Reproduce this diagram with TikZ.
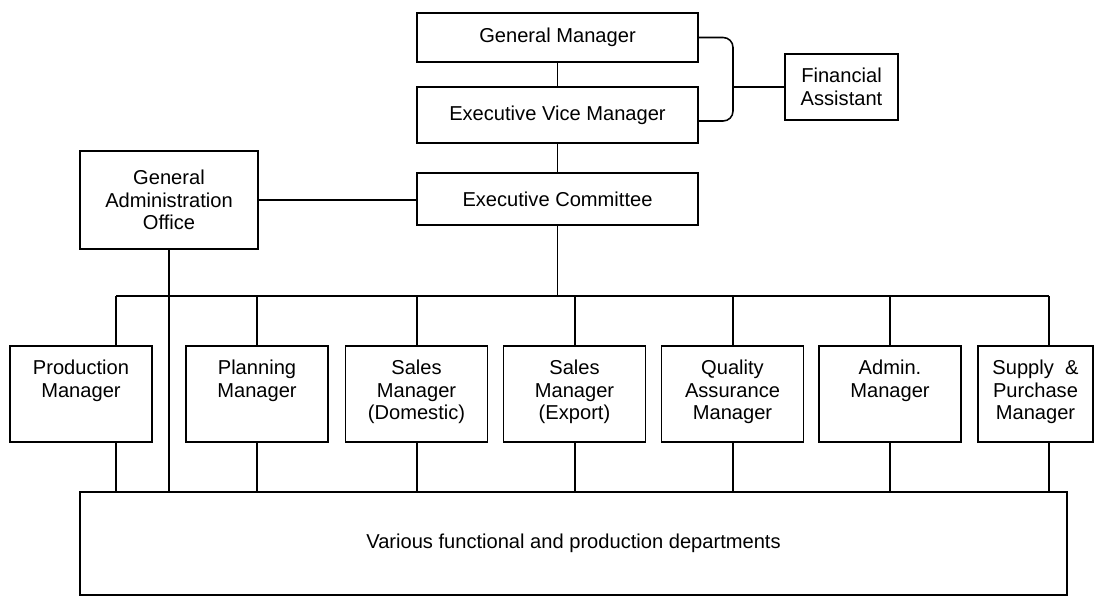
\documentclass[tikz,border=0pt]{standalone}
\usepackage{fontspec}
\setmainfont{Liberation Sans}
\usetikzlibrary{positioning,calc}
\newcommand{\boxfont}{\fontsize{14.3}{16}\selectfont}
\newcommand{\toptext}[2]{\parbox[c][2.4cm][t]{#1}{\centering\vspace*{0.36cm}#2}}

\begin{document}
\begin{tikzpicture}[x=0.025cm, y=-0.025cm, line width=1.1pt,
    box/.style={draw, inner sep=0pt, align=center, font=\boxfont},
    mgr/.style={box, minimum width=3.55cm, minimum height=2.4cm}]
  \useasboundingbox (0,0) rectangle (1094,597);
  %nodes
  \node[box, minimum width=7.025cm, minimum height=1.225cm] (gm) at (557.5,37.5) {General Manager};
  \node[box, minimum width=7.025cm, minimum height=1.4cm] (evm) at (557.5,115) {Executive Vice Manager};
  \node[box, minimum width=7.025cm, minimum height=1.3cm] (ec) at (557.5,199) {Executive Committee};
  \node[box, minimum width=2.825cm, minimum height=1.65cm] (fa) at (841.5,87) {Financial\\Assistant};
  \node[box, minimum width=4.45cm, minimum height=2.45cm] (gao) at (169,200) {General\\Administration\\Office};
  \node[mgr] (prod) at (81,394) {\toptext{3.5cm}{Production\\Manager}};
  \node[mgr] (plan) at (257,394) {\toptext{3.5cm}{Planning\\Manager}};
  \node[mgr] (sdom) at (416.5,394) {\toptext{3.5cm}{Sales\\Manager\\(Domestic)}};
  \node[mgr] (sexp) at (574.5,394) {\toptext{3.5cm}{Sales\\Manager\\(Export)}};
  \node[mgr] (qa) at (732.5,394) {\toptext{3.5cm}{Quality\\Assurance\\Manager}};
  \node[mgr] (adm) at (890,394) {\toptext{3.5cm}{Admin.\\Manager}};
  \node[mgr, minimum width=2.875cm] (sup) at (1035.5,394) {\toptext{2.8cm}{Supply\ \ \&\\Purchase\\Manager}};
  \node[box, minimum width=24.675cm, minimum height=2.575cm] (dept) at (573.5,543.5) {Various functional and production departments};
  \coordinate (brk) at (733,87);
  %edges
  \draw (gm) -- (evm);
  \draw (evm) -- (ec);
  \draw[rounded corners=7] (gm.east) -| (brk) |- ($(evm.east)+(0,6)$);
  \draw (brk) -- (fa.west);
  \draw (gao.east) -- (gao.east -| ec.west);
  \foreach \n/\x in {prod/116, plan/257, sdom/417, sexp/575, qa/733, adm/890, sup/1049} {
    \coordinate (t\n) at (\x,296);
    \draw (t\n) -- (t\n |- \n.north);
    \draw (t\n |- \n.south) -- (t\n |- dept.north);
  }
  \draw (tprod) -- (tsup);
  \draw (ec.south) -- (ec.south |- tprod);
  \draw (gao.south) -- (gao.south |- dept.north);
\end{tikzpicture}
\end{document}
